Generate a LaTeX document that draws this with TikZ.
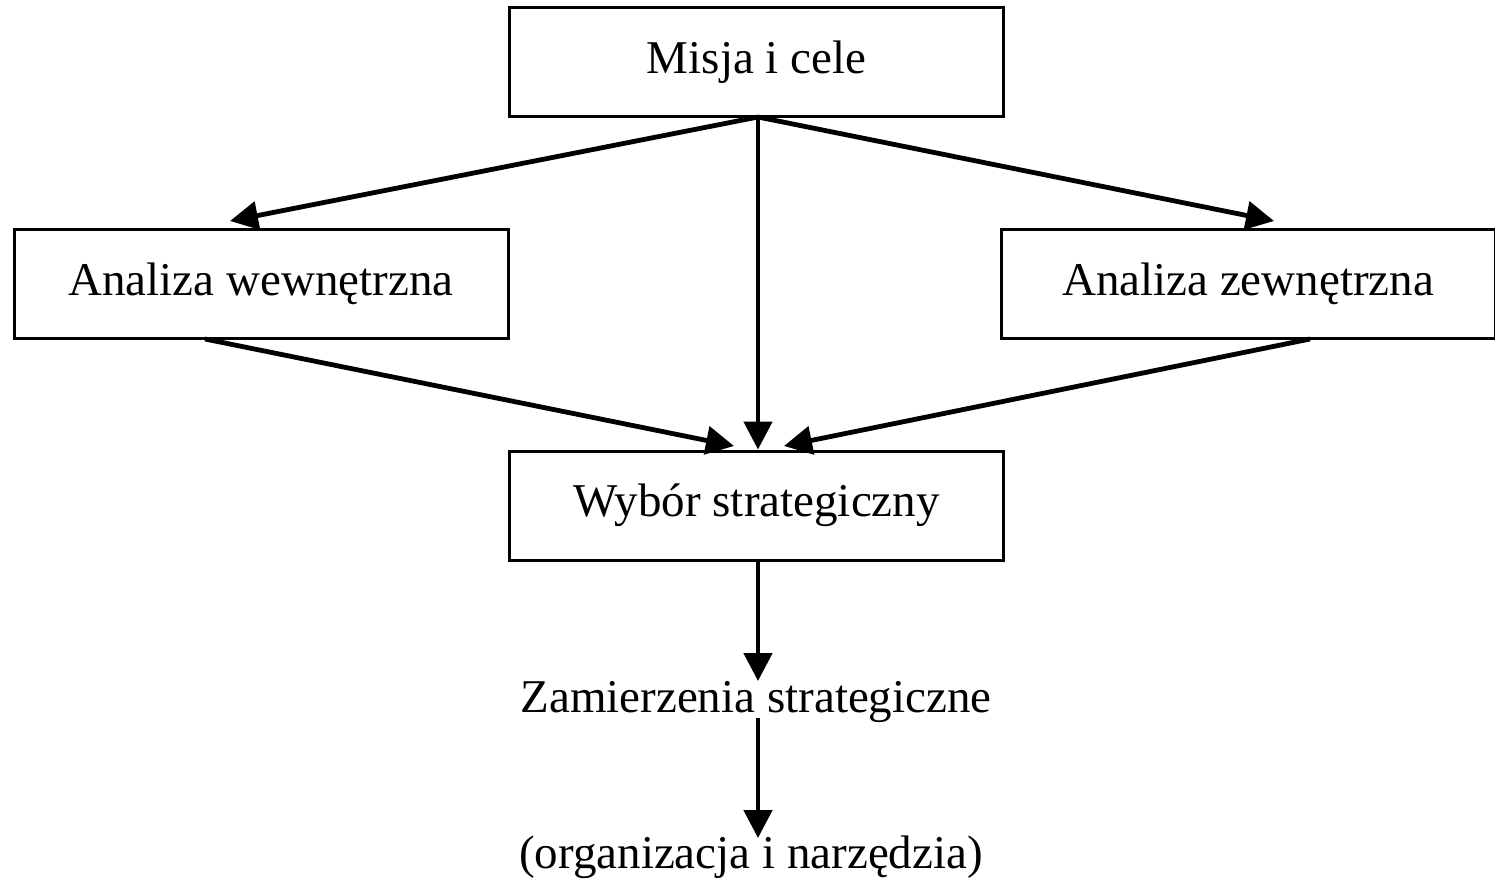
\documentclass[tikz,border=0pt]{standalone}
\usepackage{fontspec}
\setmainfont{Liberation Serif}
\usetikzlibrary{arrows.meta,positioning}

\begin{document}
\begin{tikzpicture}[x=0.5pt,y=-0.5pt]
\tikzstyle{box}=[rectangle, draw=black, line width=1.5pt, minimum width=247pt, minimum height=54.5pt, inner sep=0pt, font=\fontsize{23.5}{28}\selectfont]
\tikzstyle{plain}=[inner sep=0pt, font=\fontsize{23.5}{28}\selectfont]
\tikzstyle{connect}=[-{Triangle[length=14pt,width=14pt]}, line width=2.4pt]
\useasboundingbox (0,0) rectangle (1495,883);
  \node[box] (cele) at (756.5,62.5) {Misja i cele};
  \node[box] (wew) at (261,284) {Analiza wewnętrzna};
  \node[box] (zew) at (1248,284) {Analiza zewnętrzna};
  \node[box] (wybor) at (756.5,505.5) {Wybór strategiczny};
  \node[plain, anchor=base] (zam) at (756,712) {Zamierzenia strategiczne};
  \node[plain, anchor=base] (org) at (751,868) {(organizacja i narzędzia)};
  \coordinate (c0) at (758,117);
  \coordinate (t1) at (230,221);
  \coordinate (t2) at (1274,221);
  \coordinate (w1) at (205,339);
  \coordinate (z1) at (1310,339);
  \coordinate (b1) at (734,446);
  \coordinate (b2) at (784,446);
  \coordinate (z2) at (758,718);
  \coordinate (o1) at (758,838);
\draw[connect] (c0) -- (t1);
\draw[connect] (c0) -- (t2);
\draw[connect] (c0) -- (wybor.north -| c0);
\draw[connect] (w1) -- (b1);
\draw[connect] (z1) -- (b2);
\draw[connect] (wybor.south -| c0) -- (758,681);
\draw[connect] (z2) -- (o1);
\end{tikzpicture}
\end{document}
